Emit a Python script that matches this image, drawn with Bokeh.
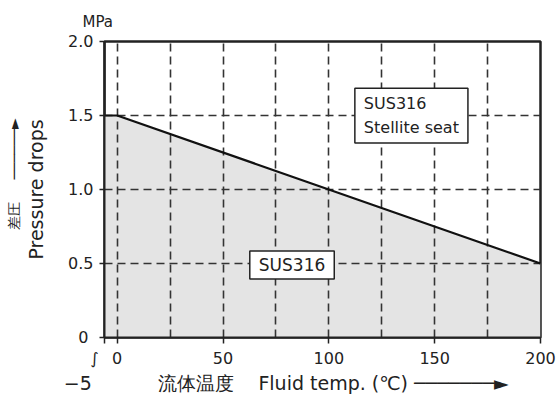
from bokeh.plotting import figure
from bokeh.models import Range1d, FixedTicker, Label, Title
from bokeh.embed import file_html
from bokeh.resources import INLINE

# ---- data ----
X_MIN = -6
temp = [X_MIN, 0, 200]            # fluid temperature (deg C)
pressure = [1.5, 1.5, 0.5]        # max pressure drop (MPa)
x_ticks = [X_MIN, 0, 50, 100, 150, 200]
x_tick_labels = {X_MIN: "∫\u00a0\u00a0\u00a0\u00a0", 0: "0", 50: "50",
                 100: "100", 150: "150", 200: "200"}
x_grid = [0, 25, 50, 75, 100, 125, 150, 175]
y_ticks = [0, 0.5, 1.0, 1.5, 2.0]
y_tick_labels = {0: "0\u00a0", 0.5: "0.5", 1: "1.0", 1.5: "1.5", 2: "2.0"}
box_upper = "SUS316\nStellite seat"
box_lower = "SUS316"
unit_label = "MPa"
y_label_en = "Pressure drops"
y_label_ja = "差圧"
x_label_start = "−5"
x_label_ja = "流体温度"
x_label_en = "Fluid temp. (℃)"

FONT = "DejaVu Sans"
INK = "#222222"
NB = "\u00a0"

p = figure(width=556, height=403, output_backend="svg", toolbar_location=None,
           x_range=Range1d(X_MIN, 200), y_range=Range1d(0, 2.0),
           min_border_left=104, min_border_right=16, min_border_top=41,
           min_border_bottom=66)
p.background_fill_color = "white"
p.border_fill_color = "white"
p.outline_line_color = INK
p.outline_line_width = 2.5

# fill under the curve
p.varea(x=temp, y1=[0] * len(temp), y2=pressure, fill_color="#e4e4e4",
        level="image")
p.line(x=temp, y=pressure, line_color="#111111", line_width=2.2)

# axes
for ax in (p.xaxis[0], p.yaxis[0]):
    ax.axis_line_color = INK
    ax.axis_line_width = 2
    ax.major_tick_line_color = INK
    ax.major_tick_line_width = 1.5
    ax.minor_tick_line_color = None
    ax.major_tick_in = 0
    ax.major_label_text_font = FONT
    ax.major_label_text_font_size = "16px"
    ax.major_label_text_color = INK
    ax.axis_label_text_font = FONT
    ax.axis_label_text_font_style = "normal"
    ax.axis_label_text_color = INK
    ax.axis_label_text_font_size = "19px"

p.xaxis.ticker = FixedTicker(ticks=x_ticks)
p.xaxis.major_label_overrides = x_tick_labels
p.xaxis.major_tick_out = 6
p.xaxis.major_label_standoff = 5
p.xaxis.axis_label_standoff = 1
p.xaxis.axis_label = (x_label_start + NB * 11 + x_label_ja + NB * 4 +
                      x_label_en + NB + "─" * 7 + "►" + NB * 12)

p.yaxis.ticker = FixedTicker(ticks=y_ticks)
p.yaxis.major_label_overrides = y_tick_labels
p.yaxis.major_tick_out = 5
p.yaxis.major_label_standoff = 6
p.yaxis.axis_label = y_label_en
p.yaxis.axis_label_standoff = 18

# extra titles outside the frame
p.add_layout(Title(text=NB * 7 + y_label_ja + NB * 5 + "─" * 6 + "►",
                   align="center", standoff=2, text_font=FONT,
                   text_font_size="14px", text_font_style="normal",
                   text_color=INK), "left")
p.add_layout(Title(text=unit_label, align="left", offset=-22, standoff=21,
                   text_font=FONT, text_font_size="15px",
                   text_font_style="normal", text_color=INK), "above")

# grid
p.xgrid.ticker = FixedTicker(ticks=x_grid)
p.ygrid.ticker = FixedTicker(ticks=[0.5, 1.0, 1.5])
for g in (p.xgrid[0], p.ygrid[0]):
    g.grid_line_color = "#333333"
    g.grid_line_width = 1.6
    g.grid_line_dash = "8 5"

# boxed labels
p.add_layout(Label(x=139, y=1.5, text=box_upper, anchor="center",
                   text_align="left", text_font=FONT, text_font_size="16px",
                   text_color=INK, text_line_height=1.25,
                   background_fill_color="white", border_line_color=INK,
                   border_line_width=1.5,
                   padding=dict(left=9, right=9, top=6, bottom=6)))
p.add_layout(Label(x=82.6, y=0.49, text=box_lower, anchor="center",
                   text_font=FONT, text_font_size="17px", text_color=INK,
                   background_fill_color="white", border_line_color=INK,
                   border_line_width=1.5,
                   padding=dict(left=9, right=9, top=4, bottom=4)))

open("out.html", "w").write(file_html(p, INLINE))
